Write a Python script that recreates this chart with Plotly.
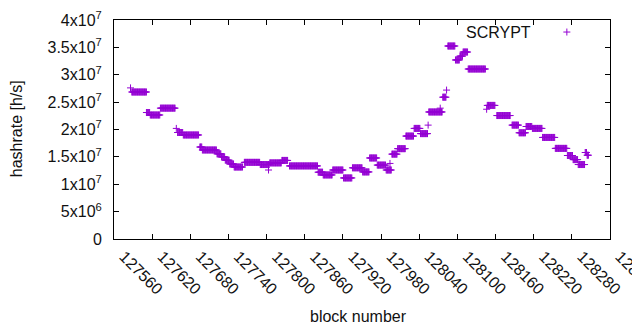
import plotly.graph_objects as go

# Hashrate plateaus: first block, last block, hashrate [h/s]
seg_first_block = [127586, 127588, 127611, 127617, 127633, 127658, 127660, 127669, 127695, 127699,
                   127722, 127729, 127735, 127742, 127749, 127765, 127790, 127803, 127805, 127824,
                   127836, 127881, 127889, 127904, 127921, 127935, 127951, 127962, 127974, 127988,
                   127994, 127997, 128006, 128019, 128032, 128042, 128054, 128055, 128073, 128077,
                   128083, 128085, 128097, 128104, 128109, 128117, 128146, 128147, 128162, 128186,
                   128197, 128208, 128218, 128234, 128254, 128273, 128282, 128290, 128301, 128304]
seg_last_block = [127586, 127611, 127616, 127632, 127656, 127658, 127668, 127693, 127698, 127721,
                  127728, 127734, 127741, 127748, 127762, 127789, 127804, 127803, 127823, 127833,
                  127880, 127888, 127903, 127920, 127934, 127950, 127961, 127973, 127987, 127996,
                  127994, 128005, 128018, 128031, 128041, 128053, 128054, 128076, 128073, 128082,
                  128083, 128096, 128103, 128108, 128116, 128144, 128146, 128159, 128183, 128196,
                  128207, 128217, 128233, 128253, 128272, 128281, 128289, 128300, 128303, 128306]
seg_hashrate = [2.76e7, 2.685e7, 2.31e7, 2.265e7, 2.39e7, 2.02e7, 1.945e7, 1.90e7, 1.68e7, 1.626e7,
                1.555e7, 1.50e7, 1.44e7, 1.37e7, 1.315e7, 1.40e7, 1.36e7, 1.26e7, 1.39e7, 1.435e7,
                1.335e7, 1.22e7, 1.17e7, 1.26e7, 1.115e7, 1.30e7, 1.225e7, 1.48e7, 1.35e7, 1.26e7,
                1.38e7, 1.55e7, 1.65e7, 1.88e7, 2.02e7, 1.925e7, 2.08e7, 2.32e7, 2.39e7, 2.59e7,
                2.72e7, 3.525e7, 3.27e7, 3.34e7, 3.415e7, 3.105e7, 2.37e7, 2.44e7, 2.255e7, 2.08e7,
                1.94e7, 2.055e7, 2.02e7, 1.855e7, 1.655e7, 1.525e7, 1.45e7, 1.36e7, 1.58e7, 1.53e7]

x_tick_vals = list(range(127560, 128341, 60))
x_tick_text = [str(v) for v in x_tick_vals]
y_tick_vals = [0, 5e6, 1e7, 1.5e7, 2e7, 2.5e7, 3e7, 3.5e7, 4e7]
y_tick_text = ["0", "5x10<sup>6</sup>", "1x10<sup>7</sup>", "1.5x10<sup>7</sup>", "2x10<sup>7</sup>",
               "2.5x10<sup>7</sup>", "3x10<sup>7</sup>", "3.5x10<sup>7</sup>", "4x10<sup>7</sup>"]
series_name = "SCRYPT"
x_title = "block number"
y_title = "hashrate [h/s]"

blocks, rates = [], []
for b0, b1, v in zip(seg_first_block, seg_last_block, seg_hashrate):
    for b in range(b0, b1 + 1):
        blocks.append(b)
        rates.append(v)

COLOR = "#9400D3"
FONT = "Liberation Sans"
TXT = "#111111"

fig = go.Figure()
fig.add_trace(go.Scatter(
    x=blocks, y=rates, mode="markers", name=series_name, showlegend=False,
    marker=dict(symbol="cross-thin", size=5, line=dict(width=1, color=COLOR), color=COLOR),
))

axis_common = dict(showline=True, linecolor="black", linewidth=1, mirror="allticks",
                   ticks="inside", ticklen=5, tickcolor="black", showgrid=False, zeroline=False,
                   automargin=False)

# page has an 8px body margin: figure is 632x322 so that the plot box sits at 114..610 x 20..239
fig.update_layout(
    width=632, height=322,
    margin=dict(l=106, r=30, t=12, b=91),
    paper_bgcolor="white", plot_bgcolor="white",
    font=dict(family=FONT, size=16, color=TXT),
    xaxis=dict(range=[127560, 128340], tickvals=x_tick_vals, ticktext=x_tick_text, tickangle=45,
               ticklabelstandoff=1, ticklabelshift=10, ticklabeloverflow="allow", **axis_common),
    yaxis=dict(range=[0, 4e7], tickvals=y_tick_vals, ticktext=y_tick_text,
               ticklabelstandoff=8, **axis_common),
    annotations=[
        dict(text=series_name, xref="paper", yref="paper", x=0.845, y=0.945,
             xanchor="right", yanchor="middle", showarrow=False, font=dict(size=16, color=TXT)),
        dict(text=x_title, xref="paper", yref="paper", x=0.492, y=-0.352,
             xanchor="center", yanchor="middle", showarrow=False, font=dict(size=16, color=TXT)),
        dict(text=y_title, xref="paper", yref="paper", x=-0.196, y=0.505, textangle=-90,
             xanchor="center", yanchor="middle", showarrow=False, font=dict(size=16, color=TXT)),
    ],
    shapes=[dict(type="path", xref="paper", yref="paper", xsizemode="pixel", ysizemode="pixel",
                 xanchor=0.913, yanchor=0.945, path="M-3.5,0 L3.5,0 M0,-3.5 L0,3.5",
                 line=dict(color=COLOR, width=1))],
)

fig.write_html("out.html")
